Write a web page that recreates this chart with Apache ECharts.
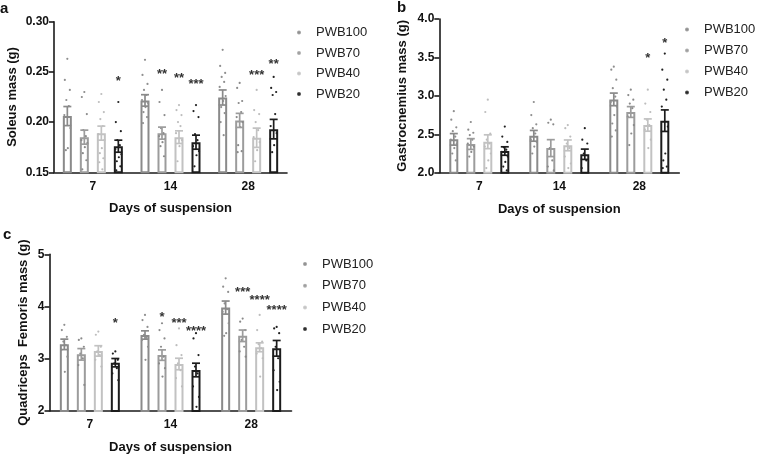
<!DOCTYPE html>
<html><head><meta charset="utf-8">
<script src="https://cdn.jsdelivr.net/npm/echarts@6/dist/echarts.min.js"></script>
<style>html,body{margin:0;padding:0;background:#fff}#c{width:758px;height:455px}</style>
</head><body><div id="c"></div>
<script>
const categories = ['7', '14', '28'];
const groups = ['PWB100', 'PWB70', 'PWB40', 'PWB20'];
const groupColors = ['#8a8a8a', '#9c9c9c', '#c2c2c2', '#1c1c1c'];
const dotColors = ['#8f8f8f', '#8a8a8a', '#bdbdbd', '#202020'];

// Panel a: Soleus mass (g) — [group][category]
const soleusMean = [[0.206, 0.2216, 0.2245], [0.185, 0.189, 0.2017], [0.189, 0.185, 0.1844], [0.176, 0.180, 0.193]];
const soleusSem = [[0.0095, 0.0057, 0.0075], [0.007, 0.006, 0.007], [0.007, 0.0063, 0.0096], [0.006, 0.007, 0.0097]];
const soleusDots = [
  [[0.263, 0.242, 0.232, 0.222, 0.216, 0.207, 0.194, 0.174, 0.172],
   [0.262, 0.247, 0.238, 0.232, 0.227, 0.222, 0.219, 0.215, 0.210, 0.205, 0.199],
   [0.272, 0.256, 0.249, 0.245, 0.240, 0.235, 0.226, 0.221, 0.215, 0.209, 0.200, 0.187]],
  [[0.230, 0.225, 0.208, 0.192, 0.186, 0.182, 0.179, 0.175, 0.169, 0.162, 0.153],
   [0.232, 0.220, 0.207, 0.194, 0.189, 0.186, 0.183, 0.180, 0.176, 0.166],
   [0.239, 0.234, 0.221, 0.219, 0.210, 0.205, 0.200, 0.195, 0.177, 0.171, 0.170]],
  [[0.228, 0.220, 0.210, 0.203, 0.196, 0.188, 0.182, 0.174, 0.169, 0.164, 0.160, 0.153],
   [0.217, 0.212, 0.207, 0.200, 0.196, 0.189, 0.182, 0.176, 0.161],
   [0.232, 0.212, 0.208, 0.200, 0.192, 0.185, 0.180, 0.172, 0.161]],
  [[0.220, 0.200, 0.191, 0.182, 0.177, 0.173, 0.168, 0.165, 0.161, 0.156, 0.152],
   [0.217, 0.211, 0.205, 0.188, 0.182, 0.176, 0.171, 0.167, 0.156],
   [0.245, 0.234, 0.230, 0.227, 0.208, 0.196, 0.189, 0.177, 0.170]]
];
// [category, group, y, text]
const soleusStars = [[0, 3, 0.2434, '*'], [1, 1, 0.2507, '**'], [1, 2, 0.2467, '**'], [1, 3, 0.2401, '***'], [2, 2, 0.2495, '***'], [2, 3, 0.2601, '**']];

// Panel b: Gastrocnemius mass (g)
const gastroMean = [[2.434, 2.48, 2.954], [2.373, 2.32, 2.79], [2.403, 2.356, 2.62], [2.282, 2.24, 2.677]];
const gastroSem = [[0.075, 0.07, 0.082], [0.07, 0.11, 0.07], [0.09, 0.07, 0.08], [0.055, 0.067, 0.14]];
const gastroDots = [
  [[2.80, 2.69, 2.59, 2.54, 2.47, 2.43, 2.38, 2.32, 2.25, 2.16],
   [2.92, 2.75, 2.63, 2.58, 2.51, 2.43, 2.40, 2.34, 2.25],
   [3.38, 3.34, 3.21, 3.10, 2.99, 2.92, 2.86, 2.75, 2.64, 2.55, 2.47]],
  [[2.66, 2.56, 2.52, 2.49, 2.43, 2.38, 2.34, 2.27, 2.21],
   [2.69, 2.65, 2.63, 2.32, 2.16, 2.08, 2.03],
   [3.08, 3.01, 2.95, 2.90, 2.84, 2.73, 2.62, 2.51, 2.36]],
  [[2.95, 2.79, 2.51, 2.43, 2.38, 2.34, 2.25, 2.16, 2.06],
   [2.62, 2.58, 2.47, 2.38, 2.32, 2.21, 2.12, 2.06],
   [3.08, 2.90, 2.79, 2.69, 2.62, 2.56, 2.43, 2.32]],
  [[2.60, 2.47, 2.40, 2.33, 2.30, 2.27, 2.21, 2.14, 2.08, 2.03],
   [2.58, 2.43, 2.38, 2.25, 2.16, 2.06],
   [3.55, 3.34, 3.21, 3.08, 2.95, 2.86, 2.60, 2.25, 2.16, 2.08, 2.06]]
];
const gastroStars = [[2, 2, 3.53, '*'], [2, 3, 3.72, '*']];

// Panel c: Quadriceps Femoris mass (g)
const quadMean = [[3.276, 3.455, 3.98], [3.085, 3.07, 3.44], [3.15, 2.90, 3.22], [2.925, 2.785, 3.20]];
const quadSem = [[0.10, 0.08, 0.125], [0.11, 0.10, 0.11], [0.10, 0.11, 0.085], [0.08, 0.13, 0.15]];
const quadDots = [
  [[3.65, 3.55, 3.42, 3.33, 3.26, 3.17, 3.04, 2.75],
   [3.84, 3.74, 3.61, 3.46, 3.40, 3.36, 3.23, 2.98],
   [4.54, 4.38, 4.28, 4.06, 3.95, 3.90, 3.68, 3.49, 3.44]],
  [[3.39, 3.36, 3.23, 3.10, 3.01, 2.88, 2.50],
   [3.68, 3.55, 3.39, 3.23, 3.04, 2.91, 2.82, 2.66],
   [3.77, 3.71, 3.55, 3.36, 3.23, 3.14, 3.04]],
  [[3.52, 3.46, 3.23, 3.14, 3.07, 2.98, 2.85],
   [3.58, 3.26, 3.07, 2.91, 2.78, 2.63, 2.47],
   [3.84, 3.55, 3.33, 3.28, 3.20, 3.10, 3.01, 2.66]],
  [[3.14, 3.10, 2.98, 2.91, 2.82, 2.72, 2.59],
   [3.49, 3.39, 3.07, 2.85, 2.72, 2.47, 2.27, 2.08],
   [3.61, 3.58, 3.49, 3.23, 3.01, 2.78, 2.56, 2.40]]
];
const quadStars = [[0, 3, 3.74, '*'], [1, 1, 3.84, '*'], [1, 2, 3.74, '***'], [1, 3, 3.58, '****'], [2, 1, 4.33, '***'], [2, 2, 4.18, '****'], [2, 3, 3.98, '****']];

const FONT = "'Liberation Sans', Arial, sans-serif";
const BAR_STEP = 17;
const JITTER = [0, -2.5, 2.5, -1, 1.5, -3, 3, 0.5, -1.5, 2, -2, 1];

const panels = [
  {mean: soleusMean, sem: soleusSem, dots: soleusDots, stars: soleusStars,
   grid: {left: 54, top: 21.7, width: 233, height: 150.6},
   y: {min: 0.15, max: 0.30, interval: 0.05, dec: 2, name: 'Soleus mass (g)', gap: 35},
   legend: {left: 297, top: 26, gap: 7.5}},
  {mean: gastroMean, sem: gastroSem, dots: gastroDots, stars: gastroStars,
   grid: {left: 439.3, top: 19, width: 240, height: 153.7},
   y: {min: 2.0, max: 4.0, interval: 0.5, dec: 1, name: 'Gastrocnemius mass (g)', gap: 30},
   legend: {left: 685, top: 23, gap: 8}},
  {mean: quadMean, sem: quadSem, dots: quadDots, stars: quadStars,
   grid: {left: 49.5, top: 254.3, width: 242, height: 156.7},
   y: {min: 2, max: 5, interval: 1, dec: 0, name: 'Quadriceps  Femoris mass (g)', gap: 20},
   legend: {left: 303, top: 257.5, gap: 8.7}}
];

const grids = [], xAxes = [], yAxes = [], series = [], legends = [];
panels.forEach((p, pi) => {
  grids.push(p.grid);
  xAxes.push({
    type: 'category', gridIndex: pi, data: categories,
    name: 'Days of suspension', nameLocation: 'middle', nameGap: 30,
    nameTextStyle: {fontFamily: FONT, fontWeight: 'bold', fontSize: 13, color: '#111'},
    axisLine: {lineStyle: {color: '#1a1a1a', width: 1.6}},
    axisTick: {alignWithLabel: true, length: 5, lineStyle: {color: '#1a1a1a', width: 1.6}},
    axisLabel: {fontFamily: FONT, fontWeight: 'bold', fontSize: 12, color: '#111', margin: 8},
    splitLine: {show: false}
  });
  yAxes.push({
    type: 'value', gridIndex: pi, min: p.y.min, max: p.y.max, interval: p.y.interval,
    name: p.y.name, nameLocation: 'middle', nameGap: p.y.gap,
    nameTextStyle: {fontFamily: FONT, fontWeight: 'bold', fontSize: 13, color: '#111'},
    axisLine: {show: true, lineStyle: {color: '#1a1a1a', width: 1.6}},
    axisTick: {show: true, length: 5, lineStyle: {color: '#1a1a1a', width: 1.6}},
    axisLabel: {fontFamily: FONT, fontWeight: 'bold', fontSize: 12, color: '#111', margin: 5,
      formatter: v => v.toFixed(p.y.dec)},
    splitLine: {show: false}
  });
  legends.push({
    left: p.legend.left, top: p.legend.top, orient: 'vertical', padding: 0,
    itemWidth: 24, itemHeight: 2, itemGap: p.legend.gap, icon: 'circle',
    selectedMode: false,
    textStyle: {fontFamily: FONT, fontSize: 13, color: '#222'},
    data: groups.map((g, gi) => ({name: g, itemStyle: {color: dotColors[gi], opacity: 0.8}}))
  });
  groups.forEach((g, gi) => {
    const col = groupColors[gi];
    series.push({
      type: 'bar', name: g, xAxisIndex: pi, yAxisIndex: pi,
      data: p.mean[gi], barWidth: 9, barGap: '88.9%', z: 2,
      itemStyle: {color: '#ffffff', borderColor: col, borderWidth: 2},
      emphasis: {disabled: true}
    });
    const dotData = [];
    p.dots[gi].forEach((arr, ci) => arr.forEach((v, k) => dotData.push([ci, v, k])));
    series.push({
      type: 'custom', name: g, xAxisIndex: pi, yAxisIndex: pi, z: 3,
      data: dotData, encode: {x: 0, y: 1},
      renderItem: (params, api) => {
        const pt = api.coord([api.value(0), api.value(1)]);
        const x = pt[0] + (gi - 1.5) * BAR_STEP + JITTER[api.value(2) % JITTER.length];
        return {type: 'circle', shape: {cx: x, cy: pt[1], r: 1.1}, style: {fill: dotColors[gi]}};
      }
    });
    series.push({
      type: 'custom', name: g, xAxisIndex: pi, yAxisIndex: pi, z: 4,
      data: p.mean[gi].map((m, ci) => [ci, m, p.sem[gi][ci]]), encode: {x: 0, y: 1},
      renderItem: (params, api) => {
        const c = api.value(0), m = api.value(1), s = api.value(2);
        const t = api.coord([c, m + s]), b = api.coord([c, m - s]);
        const x = t[0] + (gi - 1.5) * BAR_STEP;
        const st = {stroke: col, lineWidth: 1.7};
        return {type: 'group', children: [
          {type: 'line', shape: {x1: x, y1: t[1], x2: x, y2: b[1]}, style: st},
          {type: 'line', shape: {x1: x - 4, y1: t[1], x2: x + 4, y2: t[1]}, style: st},
          {type: 'line', shape: {x1: x - 4, y1: b[1], x2: x + 4, y2: b[1]}, style: st}
        ]};
      }
    });
  });
  series.push({
    type: 'custom', xAxisIndex: pi, yAxisIndex: pi, z: 5,
    data: p.stars.map(s => [s[0], s[2], s[1], s[3]]), encode: {x: 0, y: 1},
    renderItem: (params, api) => {
      const s = p.stars[params.dataIndex];
      const pt = api.coord([s[0], s[2]]);
      const x = pt[0] + (s[1] - 1.5) * BAR_STEP;
      return {type: 'text', x: x, y: pt[1] + 3,
        style: {text: s[3], fontFamily: FONT, fontWeight: 'bold', fontSize: 13, fill: '#333',
          align: 'center', verticalAlign: 'middle'}};
    }
  });
});

const chart = echarts.init(document.getElementById('c'), null, {renderer: 'canvas'});
chart.setOption({
  animation: false,
  backgroundColor: '#ffffff',
  grid: grids, xAxis: xAxes, yAxis: yAxes, legend: legends, series: series,
  graphic: [
    {type: 'text', left: 0, top: 1, style: {text: 'a', fontFamily: FONT, fontWeight: 'bold', fontSize: 15, fill: '#111'}},
    {type: 'text', left: 397, top: 0, style: {text: 'b', fontFamily: FONT, fontWeight: 'bold', fontSize: 15, fill: '#111'}},
    {type: 'text', left: 3, top: 227, style: {text: 'c', fontFamily: FONT, fontWeight: 'bold', fontSize: 15, fill: '#111'}}
  ]
});
</script></body></html>
